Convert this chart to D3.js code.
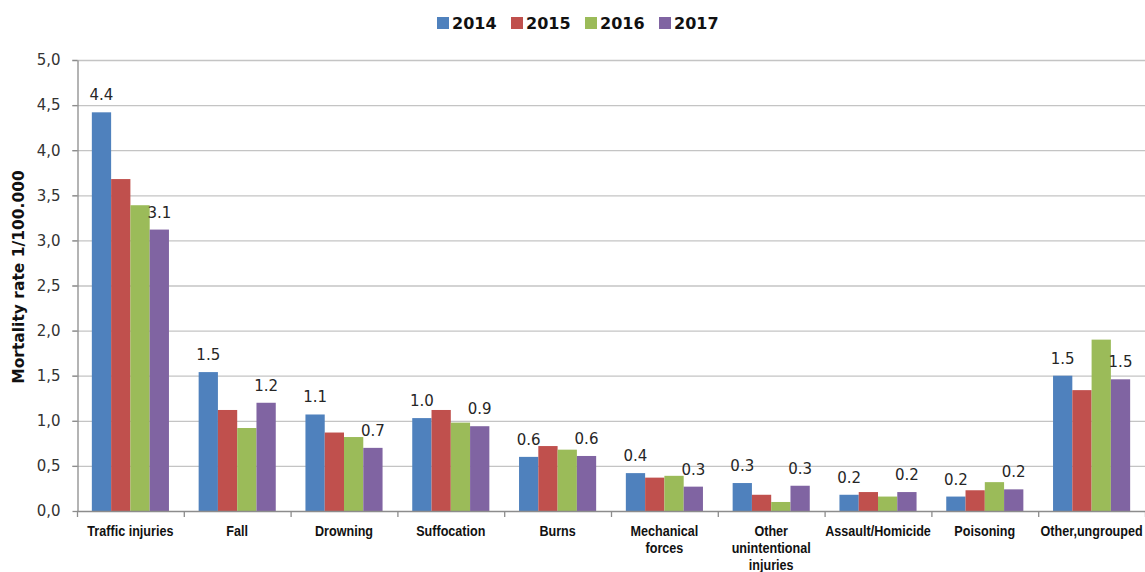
<!DOCTYPE html>
<html>
<head>
<meta charset="utf-8">
<script src="https://cdn.jsdelivr.net/npm/d3@7/dist/d3.min.js"></script>
<style>
  html, body { margin: 0; padding: 0; background: #fff; }
  svg { display: block; }
</style>
</head>
<body>
<svg id="chart" width="1145" height="572"></svg>
<script>
// Injury mortality rate per 100.000, by cause and year
const categories = ["Traffic injuries", "Fall", "Drowning", "Suffocation", "Burns",
  "Mechanical forces", "Other unintentional injuries", "Assault/Homicide", "Poisoning", "Other,ungrouped"];
const categoryLines = [["Traffic injuries"], ["Fall"], ["Drowning"], ["Suffocation"], ["Burns"],
  ["Mechanical", "forces"], ["Other", "unintentional", "injuries"], ["Assault/Homicide"], ["Poisoning"], ["Other,ungrouped"]];
const years = ["2014", "2015", "2016", "2017"];
const v2014 = [4.42, 1.54, 1.07, 1.03, 0.60, 0.42, 0.31, 0.18, 0.16, 1.50];
const v2015 = [3.68, 1.12, 0.87, 1.12, 0.72, 0.37, 0.18, 0.21, 0.23, 1.34];
const v2016 = [3.39, 0.92, 0.82, 0.98, 0.68, 0.39, 0.10, 0.16, 0.32, 1.90];
const v2017 = [3.12, 1.20, 0.70, 0.94, 0.61, 0.27, 0.28, 0.21, 0.24, 1.46];
const yTicks = [0, 0.5, 1, 1.5, 2, 2.5, 3, 3.5, 4, 4.5, 5];
const labeledYears = ["2014", "2017"];
const colors = ["#4F81BD", "#C0504D", "#9BBB59", "#8064A2"];

const seriesValues = { "2014": v2014, "2015": v2015, "2016": v2016, "2017": v2017 };

const svg = d3.select("#chart");
const margin = { left: 77, right: 0, top: 60, bottom: 61 };
const W = 1145, H = 572;

const x0 = d3.scaleBand().domain(categories).range([margin.left, W - margin.right]).padding(0);
const x1 = d3.scaleBand().domain(years).range([0, x0.bandwidth()]).paddingInner(0).paddingOuter(0.77);
const y = d3.scaleLinear().domain([0, 5]).range([H - margin.bottom, margin.top]);
const color = d3.scaleOrdinal().domain(years).range(colors);

const textFont = "'DejaVu Sans', sans-serif";

// horizontal gridlines
svg.append("g")
  .selectAll("line")
  .data(yTicks.filter(t => t > 0))
  .join("line")
  .attr("x1", margin.left - 5)
  .attr("x2", W)
  .attr("y1", d => y(d) + 0.5)
  .attr("y2", d => y(d) + 0.5)
  .attr("stroke", "#c4c4c4")
  .attr("stroke-width", 1.3);

// bars
const rows = categories.map((c, i) => ({ cat: c, vals: years.map(yr => ({ yr, v: seriesValues[yr][i] })) }));
const groups = svg.append("g").selectAll("g")
  .data(rows)
  .join("g")
  .attr("transform", d => `translate(${x0(d.cat)},0)`);

groups.selectAll("rect")
  .data(d => d.vals)
  .join("rect")
  .attr("x", d => x1(d.yr))
  .attr("width", x1.bandwidth())
  .attr("y", d => y(d.v))
  .attr("height", d => y(0) - y(d.v))
  .attr("fill", d => color(d.yr));

// value labels for first and last year
const fmt = d3.format(".1f");
groups.selectAll("text.val")
  .data(d => d.vals.filter(e => labeledYears.includes(e.yr)))
  .join("text")
  .attr("class", "val")
  .attr("x", d => x1(d.yr) + x1.bandwidth() / 2)
  .attr("y", d => y(d.v) - 12)
  .attr("text-anchor", "middle")
  .attr("font-family", textFont)
  .attr("font-size", 15)
  .attr("fill", "#262626")
  .text(d => fmt(d.v));

// y axis
const yAxis = d3.axisLeft(y)
  .tickValues(yTicks)
  .tickSizeInner(5)
  .tickSizeOuter(0)
  .tickPadding(12)
  .tickFormat(d => fmt(d).replace(".", ","));
const gy = svg.append("g")
  .attr("transform", `translate(${margin.left + 0.5},0)`)
  .call(yAxis);
gy.select(".domain").attr("stroke", "#8c8c8c").attr("stroke-width", 1.3);
gy.selectAll(".tick line").attr("stroke", "#8c8c8c").attr("stroke-width", 1.3);
gy.selectAll(".tick text")
  .attr("font-family", textFont)
  .attr("font-size", 15)
  .attr("fill", "#333");

// x axis line and category boundary ticks
const gx = svg.append("g");
gx.append("line")
  .attr("x1", margin.left).attr("x2", W)
  .attr("y1", y(0) + 0.5).attr("y2", y(0) + 0.5)
  .attr("stroke", "#8c8c8c").attr("stroke-width", 1.3);
const bounds = categories.map(c => x0(c)).concat([x0.range()[1]]);
gx.selectAll("line.tk")
  .data(bounds)
  .join("line")
  .attr("class", "tk")
  .attr("x1", d => d + 0.5).attr("x2", d => d + 0.5)
  .attr("y1", y(0)).attr("y2", y(0) + 6)
  .attr("stroke", "#8c8c8c").attr("stroke-width", 1.3);

// category labels (condensed bold)
const xl = svg.append("g").selectAll("text")
  .data(categories)
  .join("text")
  .attr("transform", d => `translate(${x0(d) + x0.bandwidth() / 2},${y(0) + 25}) scale(0.84,1)`)
  .attr("text-anchor", "middle")
  .attr("font-family", "'Liberation Sans', Arial, sans-serif")
  .attr("font-weight", "bold")
  .attr("font-size", 15)
  .attr("fill", "#111");
xl.selectAll("tspan")
  .data((d, i) => categoryLines[i])
  .join("tspan")
  .attr("x", 0)
  .attr("dy", (d, i) => i === 0 ? 0 : 17)
  .text(d => d);

// y axis title
svg.append("text")
  .attr("transform", `translate(19,277) rotate(-90)`)
  .attr("text-anchor", "middle")
  .attr("dominant-baseline", "central")
  .attr("font-family", textFont)
  .attr("font-weight", "bold")
  .attr("font-size", 15.5)
  .attr("fill", "#111")
  .text("Mortality rate 1/100.000");

// legend
const legend = svg.append("g").attr("transform", "translate(437,17)");
const li = legend.selectAll("g")
  .data(years)
  .join("g")
  .attr("transform", (d, i) => `translate(${i * 74},0)`);
li.append("rect")
  .attr("width", 12).attr("height", 12)
  .attr("fill", d => color(d));
li.append("text")
  .attr("x", 15)
  .attr("y", 12)
  .attr("font-family", textFont)
  .attr("font-weight", "bold")
  .attr("font-size", 16)
  .attr("fill", "#111")
  .text(d => d);
</script>
</body>
</html>
